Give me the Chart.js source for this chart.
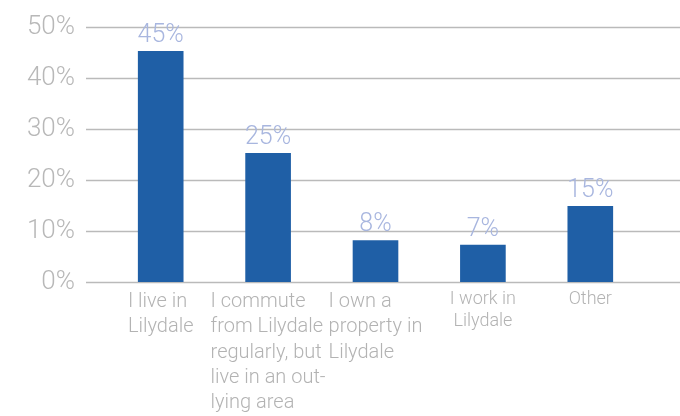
<!DOCTYPE html>
<html>
<head>
<meta charset="utf-8">
<script src="https://cdn.jsdelivr.net/npm/chart.js@4/dist/chart.umd.min.js"></script>
<style>
  html, body { margin: 0; padding: 0; background: #fff; }
  #wrap { width: 680px; height: 416px; }
</style>
</head>
<body>
<div id="wrap"><canvas id="chart"></canvas></div>
<script>
// survey answers
var categories = [
    ['I live in', 'Lilydale'],
    ['I commute', 'from Lilydale', 'regularly, but', 'live in an out-', 'lying area'],
    ['I own a', 'property in', 'Lilydale'],
    ['I work in', 'Lilydale'],
    ['Other']
];
var shares = [45.3, 25.3, 8.2, 7.3, 14.9];
var yTicks = [0, 10, 20, 30, 40, 50];

var FONT = 'Roboto, "Liberation Sans", sans-serif';

// first three labels are bigger text boxes with left-aligned lines
function isBigLabel(i) { return i < 3; }

// long grid lines, they run past the plot area on both sides
var wideGrid = {
    id: 'wideGrid',
    beforeDatasetsDraw: function(chart) {
        var ctx = chart.ctx;
        var y = chart.scales.y;
        ctx.save();
        ctx.strokeStyle = '#bababa';
        ctx.lineWidth = 1.5;
        yTicks.forEach(function(v) {
            var py = Math.round(y.getPixelForValue(v)) + 0.5;
            ctx.beginPath();
            ctx.moveTo(86, py);
            ctx.lineTo(chart.width, py);
            ctx.stroke();
        });
        ctx.restore();
    }
};

// keep each label block centred under its bar but left-align its lines
var leftLines = {
    id: 'leftLines',
    beforeDraw: function(chart) {
        var xs = chart.scales.x;
        if (!xs._leftPatched) {
            var orig = xs._computeLabelItems;
            xs._computeLabelItems = function(area) {
                var items = orig.call(this, area);
                var c = this.ctx;
                items.forEach(function(it, i) {
                    if (!isBigLabel(i) || !Array.isArray(it.label)) return;
                    c.save();
                    c.font = it.font.string;
                    var w = 0;
                    it.label.forEach(function(l) { w = Math.max(w, c.measureText(l).width); });
                    c.restore();
                    it.options.textAlign = 'left';
                    it.options.translation[0] -= w / 2;
                });
                return items;
            };
            xs._leftPatched = true;
        }
        xs._labelItems = null;
    }
};

// value labels above bars
var valueLabels = {
    id: 'valueLabels',
    afterDatasetsDraw: function(chart) {
        var ctx = chart.ctx;
        var meta = chart.getDatasetMeta(0);
        ctx.save();
        ctx.font = '300 25px ' + FONT;
        ctx.fillStyle = '#a8b6df';
        ctx.textAlign = 'center';
        ctx.textBaseline = 'alphabetic';
        meta.data.forEach(function(bar, i) {
            ctx.fillText(Math.round(shares[i]) + '%', bar.x, bar.y - 9);
        });
        ctx.restore();
    }
};

var ctx = document.getElementById('chart').getContext('2d');
new Chart(ctx, {
    type: 'bar',
    data: {
        labels: categories,
        datasets: [{
            data: shares,
            backgroundColor: '#1f5fa6',
            borderWidth: 0,
            categoryPercentage: 1,
            barPercentage: 0.425
        }]
    },
    options: {
        responsive: true,
        maintainAspectRatio: false,
        animation: false,
        layout: { padding: { top: 27, right: 36, left: 0, bottom: 0 } },
        plugins: {
            legend: { display: false },
            tooltip: { enabled: false }
        },
        scales: {
            x: {
                grid: { display: false, drawTicks: false },
                border: { display: false },
                ticks: {
                    autoSkip: false,
                    maxRotation: 0,
                    padding: 7,
                    color: '#b3b3b3',
                    font: function(c) {
                        var big = isBigLabel(c.index);
                        return { family: FONT, weight: 300, size: big ? 20 : 18, lineHeight: big ? 1.27 : 1.2 };
                    }
                },
                afterFit: function(s) {
                    s.height = 134;
                    s.paddingLeft = 0;
                    s.paddingRight = 0;
                }
            },
            y: {
                min: 0,
                max: 50,
                grid: { display: false, drawTicks: false },
                border: { display: false },
                ticks: {
                    stepSize: 10,
                    padding: 32,
                    color: '#b8b8b8',
                    font: { family: FONT, weight: 300, size: 26 },
                    callback: function(v) { return v + '%'; }
                },
                afterFit: function(s) {
                    s.width = 107;
                    s.paddingTop = 0;
                    s.paddingBottom = 0;
                }
            }
        }
    },
    plugins: [wideGrid, leftLines, valueLabels]
});
</script>
</body>
</html>
